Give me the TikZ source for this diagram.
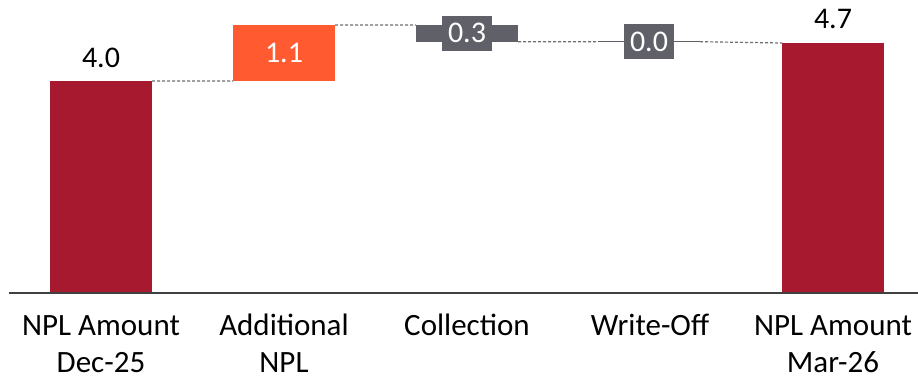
\documentclass[tikz,border=0pt]{standalone}
\usepackage{fontspec}
\setmainfont{Carlito}
\definecolor{nplred}{HTML}{A6192E}
\definecolor{addorange}{HTML}{FF5A30}
\definecolor{bargray}{HTML}{5F6068}
\definecolor{dashgray}{HTML}{6F6F6F}
\definecolor{axisgray}{HTML}{404040}
\begin{document}
\begin{tikzpicture}[x=1bp,y=1bp,
  barbox/.style={draw=none,inner sep=0pt,outer sep=0pt,minimum width=102bp,anchor=south west},
  redbar/.style={barbox,fill=nplred},
  orangebar/.style={barbox,fill=addorange},
  graybar/.style={barbox,fill=bargray},
  valtext/.style={font=\fontsize{30bp}{36bp}\selectfont,inner sep=0pt},
  tagbox/.style={valtext,fill=bargray,text=white,minimum width=50bp,minimum height=35bp,text height=19bp,text depth=0pt},
  cattext/.style={font=\fontsize{31bp}{37bp}\selectfont,align=center,inner sep=0pt,anchor=base},
  linker/.style={draw=dashgray,line width=1.2bp,dash pattern=on 3bp off 2bp},
  axisline/.style={draw=axisgray,line width=1.5bp}]
\useasboundingbox (0,0) rectangle (918,379);
% bars
\node[redbar,minimum height=212bp] (b1) at (50,86) {};
\node[orangebar,minimum height=56bp] (b2) at (233,298) {};
\node[graybar,minimum height=16.7bp] (b3) at (416,337.3) {};
\node[graybar,minimum height=1.4bp] (b4) at (598,336.6) {};
\node[redbar,minimum height=250bp] (b5) at (782,86) {};
% connectors
\draw[linker] (b1.north east) -- (b2.south west);
\draw[linker] (b2.north east) -- (b3.north west);
\draw[linker] (b3.south east) -- (b4.west);
\draw[linker] (b4.east) -- (b5.north west);
% axis
\coordinate (axL) at (9,86);
\coordinate (axR) at (918,86);
\draw[axisline] (axL) -- (axR);
% value labels
\node[valtext,anchor=base] (v1) at ([yshift=13bp]b1.north) {4.0};
\node[valtext,anchor=base,text=white] (v2) at ([yshift=-9.5bp]b2.center) {1.1};
\node[tagbox] (v3) at (b3.center) {0.3};
\node[tagbox] (v4) at (b4.center) {0.0};
\node[valtext,anchor=base] (v5) at ([yshift=14bp]b5.north) {4.7};
% category labels (base anchor = last line)
\node[cattext] (c1) at (101,7) {NPL Amount\\Dec-25};
\node[cattext] (c2) at (284,7) {Additional\\NPL};
\node[cattext] (c3) at (467,44) {Collection};
\node[cattext] (c4) at (650,44) {Write-Off};
\node[cattext] (c5) at (833,7) {NPL Amount\\Mar-26};
\end{tikzpicture}
\end{document}
